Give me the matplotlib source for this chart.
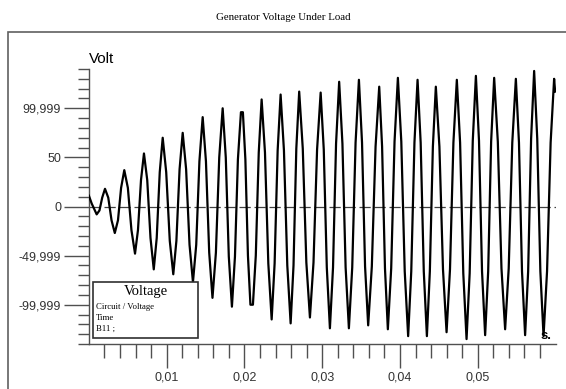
import matplotlib
matplotlib.use("Agg")
import matplotlib.pyplot as plt
from matplotlib.patches import Rectangle
from matplotlib.ticker import FixedLocator

# scope trace: peaks, troughs and the half-way
# shoulders between them (seconds, volts)
time_s = [0.0, 0.00036, 0.0010,
          0.00136, 0.00171, 0.00207,
          0.00249, 0.00291, 0.00333,
          0.00374, 0.00414, 0.00455,
          0.00501, 0.00547, 0.00593,
          0.00631, 0.00670, 0.00708,
          0.00750, 0.00792, 0.00834,
          0.00872, 0.00911, 0.00949,
          0.00994, 0.01040, 0.01085,
          0.01125, 0.01166, 0.01206,
          0.01250, 0.01294, 0.01338,
          0.01380, 0.01421, 0.01463,
          0.01505, 0.01547, 0.01589,
          0.01633, 0.01676, 0.01720,
          0.01760, 0.01799, 0.01839,
          0.01878, 0.01916, 0.01955, 0.01980,
          0.02012, 0.02045, 0.02077, 0.02109,
          0.02146, 0.02184, 0.02221,
          0.02264, 0.02307, 0.02350,
          0.02388, 0.02427, 0.02465,
          0.02508, 0.02551, 0.02594,
          0.02631, 0.02667, 0.02704,
          0.02750, 0.02796, 0.02842,
          0.02888, 0.02934, 0.02980,
          0.03020, 0.03059, 0.03099,
          0.03139, 0.03178, 0.03218,
          0.03260, 0.03301, 0.03343,
          0.03386, 0.03429, 0.03472,
          0.03512, 0.03551, 0.03591,
          0.03638, 0.03686, 0.03733,
          0.03770, 0.03807, 0.03844,
          0.03887, 0.03930, 0.03973,
          0.04017, 0.04061, 0.04105,
          0.04145, 0.04186, 0.04226,
          0.04266, 0.04306, 0.04346,
          0.04384, 0.04423, 0.04461,
          0.04507, 0.04553, 0.04599,
          0.04643, 0.04687, 0.04731,
          0.04773, 0.04814, 0.04856,
          0.04896, 0.04936, 0.04976,
          0.05016, 0.05055, 0.05095,
          0.05134, 0.05172, 0.05211,
          0.05258, 0.05305, 0.05352,
          0.05398, 0.05444, 0.05490,
          0.05530, 0.05569, 0.05609,
          0.05648, 0.05686, 0.05725,
          0.05765, 0.05805, 0.05846,
          0.05891, 0.05937, 0.05982, 0.05995]
volt = [11, 3, -8,
        -4, 9, 18,
        9, -14, -27,
        -14, 19, 37,
        19, -24, -48,
        -24, 27, 54,
        27, -32, -64,
        -32, 35, 70,
        35, -35, -69,
        -35, 38, 75,
        38, -39, -77,
        -39, 46, 91,
        46, -47, -93,
        -47, 50, 100,
        50, -51, -102,
        -51, 48, 96, 96,
        48, -50, -100, -100,
        -50, 55, 109,
        55, -58, -115,
        -58, 57, 114,
        57, -60, -119,
        -60, 59, 117,
        59, -57, -113,
        -57, 58, 116,
        58, -62, -124,
        -62, 64, 127,
        64, -62, -124,
        -62, 65, 129,
        65, -61, -121,
        -61, 61, 122,
        61, -63, -125,
        -63, 66, 131,
        66, -66, -132,
        -66, 65, 129,
        65, -66, -132,
        -66, 61, 122,
        61, -64, -128,
        -64, 65, 129,
        65, -68, -135,
        -68, 67, 133,
        67, -66, -131,
        -66, 66, 131,
        66, -63, -125,
        -63, 65, 130,
        65, -66, -131,
        -66, 69, 138,
        69, -66, -132,
        -66, 65, 130, 117]

x_ticks = [0.01, 0.02, 0.03, 0.04, 0.05]
x_labels = ["0,01", "0,02", "0,03", "0,04", "0,05"]
y_ticks = [-99.999, -49.999, 0, 50, 99.999]
y_labels = ["-99,999", "-49,999", "0", "50", "99,999"]

title = "Generator Voltage Under Load"
legend_title = "Voltage"
legend_lines = ["Circuit / Voltage", "Time", "B11 ;"]

SERIF = ["Liberation Serif", "DejaVu Serif"]
SANS = ["Liberation Sans", "DejaVu Sans"]
AXIS_COLOR = "#505050"

fig = plt.figure(figsize=(5.66, 3.89), dpi=100)

# outer frame (runs off the right and bottom edges)
fig.patches.append(
    Rectangle((8.3 / 566, -0.2), 1.2, 0.2 + (1 - 32.3 / 389),
              transform=fig.transFigure, fill=False,
              edgecolor="#606060", linewidth=1.2)
)

fig.text(0.5, 1 - 17 / 389, title, ha="center", va="center",
         family=SERIF, fontsize=7.8)

ax = fig.add_axes([88.9 / 566, 45 / 389, 467.4 / 566, 275 / 389])

ax.plot(time_s, volt, color="black", linewidth=1.6, zorder=3)

ax.axhline(0, color="#404040", linewidth=0.9, dashes=(9, 3), zorder=2)

ax.set_xlim(0, 0.0601)
ax.set_ylim(-140, 140)

for side in ["top", "right"]:
    ax.spines[side].set_visible(False)
for side in ["left", "bottom"]:
    ax.spines[side].set_color(AXIS_COLOR)
    ax.spines[side].set_linewidth(1.0)

ax.set_xticks(x_ticks)
ax.set_xticklabels(x_labels)
ax.set_yticks(y_ticks)
ax.set_yticklabels(y_labels)

ax.xaxis.set_minor_locator(FixedLocator(
    [0.002 * i for i in range(1, 30) if i % 5 != 0]))
ax.yaxis.set_minor_locator(FixedLocator(
    [10 * i for i in range(-14, 15) if i % 5 != 0]))

ax.tick_params(axis="x", which="major", direction="out", length=17,
               width=1.0, color=AXIS_COLOR, pad=3, labelsize=9,
               labelcolor="#333333")
ax.tick_params(axis="x", which="minor", direction="out", length=10,
               width=1.0, color=AXIS_COLOR)
ax.tick_params(axis="y", which="major", direction="out", length=18,
               width=1.0, color=AXIS_COLOR, pad=2, labelsize=9,
               labelcolor="#333333")
ax.tick_params(axis="y", which="minor", direction="out", length=8,
               width=1.0, color=AXIS_COLOR)
for lbl in ax.get_xticklabels() + ax.get_yticklabels():
    lbl.set_family(SANS)

ax.text(0.0, 1.01, "Volt", transform=ax.transAxes, ha="left",
        va="bottom", family=SANS, fontsize=11)
ax.text(0.979, 0.03, "s.", transform=ax.transAxes, ha="center",
        va="center", family=SANS, fontsize=9.5, fontweight="bold")

# legend box
ax.add_patch(Rectangle((0.0094, 0.0207), 0.2246, 0.2036,
                       transform=ax.transAxes, facecolor="white",
                       edgecolor="#303030", linewidth=1.2, zorder=5,
                       clip_on=False))
ax.text(0.122, 0.19, legend_title, transform=ax.transAxes, ha="center",
        va="center", family=SERIF, fontsize=10.5, zorder=6)
for i, line in enumerate(legend_lines):
    ax.text(0.0152, 0.1345 - 0.04 * i, line, transform=ax.transAxes,
            ha="left", va="center", family=SERIF, fontsize=6.3, zorder=6)

plt.savefig("out.png", dpi=100)
plt.close()
